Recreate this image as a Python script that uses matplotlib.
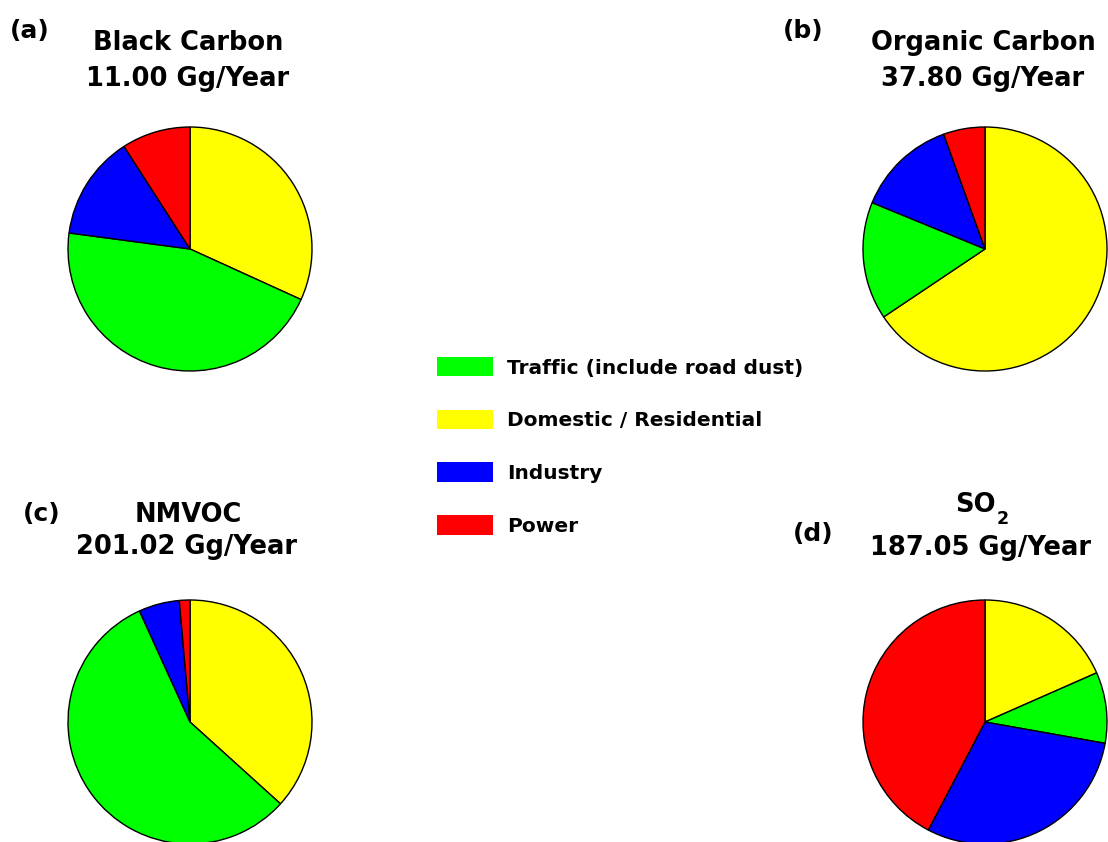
import matplotlib
matplotlib.use("Agg")
import matplotlib.pyplot as plt
from matplotlib.patches import Patch

plt.rcParams['font.family'] = ['DejaVu Sans']
plt.rcParams['font.weight'] = 'bold'

# sources, in the clockwise order they appear from 12 o'clock
sources = ['Domestic / Residential', 'Traffic (include road dust)', 'Industry', 'Power']
colors = ['#FFFF00', '#00FF00', '#0000FF', '#FF0000']

# percent shares
bc_share = [31.8, 45.3, 13.8, 9.1]
oc_share = [65.6, 15.6, 13.3, 5.5]
nmvoc_share = [36.7, 56.5, 5.4, 1.4]
so2_share = [18.4, 9.4, 29.9, 42.3]

panel_tags = ['(a)', '(b)', '(c)', '(d)']
species = ['Black Carbon', 'Organic Carbon', 'NMVOC', 'SO']
species_sub = ['', '', '', '2']
totals = ['11.00 Gg/Year', '37.80 Gg/Year', '201.02 Gg/Year', '187.05 Gg/Year']

legend_order = ['Traffic (include road dust)', 'Domestic / Residential', 'Industry', 'Power']

W, H = 1108, 842
fig = plt.figure(figsize=(W / 100, H / 100), dpi=100)

# pixel layout: pie centres, radius, title baselines
centres = [(190, 249), (985, 249), (190, 722), (985, 722)]
R = 122
pad = 1.05
title_x = [188, 983, 186, 980]
line1_x = [188, 983, 188, 975]
tag_x = [10, 783, 23, 793]
tag_y = [38, 38, 521, 541]
line1_y = [50, 50, 522, 512]
line2_y = [86, 86, 554, 555]

shares = [bc_share, oc_share, nmvoc_share, so2_share]

for i, vals in enumerate(shares):
    cx, cy = centres[i]
    half = R * pad
    ax = fig.add_axes([(cx - half) / W, (H - cy - half) / H, 2 * half / W, 2 * half / H])
    wedges, _ = ax.pie(vals, colors=colors, startangle=90, counterclock=False,
                       wedgeprops=dict(edgecolor='black', linewidth=1.0))
    for w in wedges:
        w.set_clip_on(False)
    ax.set_xlim(-pad, pad)
    ax.set_ylim(-pad, pad)
    ax.axis('off')

    fig.text(tag_x[i] / W, 1 - tag_y[i] / H, panel_tags[i], fontsize=18,
             fontweight='bold', ha='left', va='baseline')
    t = fig.text(line1_x[i] / W, 1 - line1_y[i] / H, species[i], fontsize=18.5,
                 fontweight='bold', ha='center', va='baseline')
    if species_sub[i]:
        # subscript hangs just below the baseline of the species name
        ax.annotate(species_sub[i], xy=(1.0, 0.0), xycoords=t,
                    xytext=(1, 8), textcoords='offset pixels',
                    fontsize=12.5, fontweight='bold', ha='left', va='top',
                    annotation_clip=False)
    fig.text(title_x[i] / W, 1 - line2_y[i] / H, totals[i], fontsize=18.5,
             fontweight='bold', ha='center', va='baseline')

handles = [Patch(facecolor=colors[sources.index(s)], edgecolor='none') for s in legend_order]
fig.legend(handles, legend_order, loc='upper left',
           bbox_to_anchor=(437 / W, 1 - 357 / H), frameon=False,
           handlelength=2.8, handleheight=1.1,
           handletextpad=0.7, labelspacing=1.6, borderpad=0, borderaxespad=0,
           prop={'weight': 'bold', 'size': 14.5})

fig.savefig('out.png', dpi=100)
